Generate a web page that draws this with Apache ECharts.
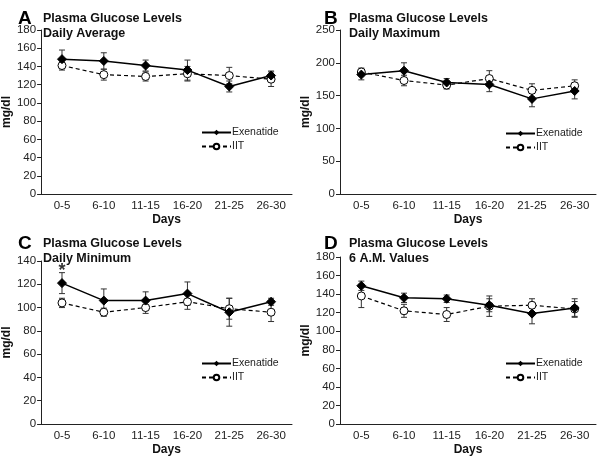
<!DOCTYPE html>
<html>
<head>
<meta charset="utf-8">
<script src="https://cdn.jsdelivr.net/npm/echarts@6/dist/echarts.min.js"></script>
<style>
  html, body { margin: 0; padding: 0; background: #fff; }
  #main { width: 600px; height: 457px; }
</style>
</head>
<body>
<div id="main"></div>
<script>
// categories
const days = ['0-5', '6-10', '11-15', '16-20', '21-25', '26-30'];

// A - daily average
const avgExe    = [148, 146, 141, 136, 118, 130];
const avgExeErr = [10, 9, 6, 11, 6, 5];
const avgIit    = [141, 131, 129, 132, 130, 126];
const avgIitErr = [5, 6, 5, 8, 9, 8];

// B - daily maximum
const maxExe    = [182, 188, 170, 167, 145, 157];
const maxExeErr = [8, 12, 6, 11, 12, 12];
const maxIit    = [186, 173, 166, 176, 158, 165];
const maxIitErr = [6, 8, 6, 12, 10, 9];

// C - daily minimum
const minExe    = [121, 106, 106, 112, 96, 105];
const minExeErr = [9, 10, 7.5, 10, 12, 3];
const minIit    = [104, 96, 100, 105, 99, 96];
const minIitErr = [4, 3.5, 5, 6.5, 9, 8];
const minStar   = [['0-5', 131]];

// D - 6 A.M. values
const amExe    = [149, 136, 135, 128, 119, 125];
const amExeErr = [5, 5, 4, 7, 11, 10];
const amIit    = [138, 122, 118, 127, 128, 124];
const amIitErr = [12.5, 7, 7.5, 11, 7, 8];

const panelLetters = ['A', 'B', 'C', 'D'];
const panelTitles = [
  'Plasma Glucose Levels\nDaily Average',
  'Plasma Glucose Levels\nDaily Maximum',
  'Plasma Glucose Levels\nDaily Minimum',
  'Plasma Glucose Levels\n6 A.M. Values'
];
const yMax = [180, 250, 140, 180];
const yStep = [20, 50, 20, 20];

const FONT = '"Liberation Sans", Arial, sans-serif';

const grids = [
  { left: 35, top: 30, width: 257, height: 164 },
  { left: 340, top: 30, width: 256, height: 164 },
  { left: 35, top: 261, width: 257, height: 163 },
  { left: 340, top: 257, width: 256, height: 167 }
];
const titlePos = [[13, 8], [319, 8], [13, 233], [319, 233]];
const legendPos = [[201, 127], [505, 128], [201, 358], [505, 358]];

const panels = [
  [avgExe, avgExeErr, avgIit, avgIitErr],
  [maxExe, maxExeErr, maxIit, maxIitErr],
  [minExe, minExeErr, minIit, minIitErr],
  [amExe, amExeErr, amIit, amIitErr]
];

function errData(vals, errs) {
  return vals.map((v, i) => [i, v - errs[i], v + errs[i]]);
}

function renderErr(params, api) {
  const lo = api.coord([api.value(0), api.value(1)]);
  const hi = api.coord([api.value(0), api.value(2)]);
  const cap = 3;
  const style = { stroke: '#333', lineWidth: 1 };
  return {
    type: 'group',
    children: [
      { type: 'line', shape: { x1: lo[0], y1: lo[1], x2: hi[0], y2: hi[1] }, style: style },
      { type: 'line', shape: { x1: lo[0] - cap, y1: lo[1], x2: lo[0] + cap, y2: lo[1] }, style: style },
      { type: 'line', shape: { x1: hi[0] - cap, y1: hi[1], x2: hi[0] + cap, y2: hi[1] }, style: style }
    ]
  };
}

let title = [];
let legend = [];
let xAxis = [];
let yAxis = [];
let series = [];

for (let p = 0; p < 4; p++) {
  title.push({
    text: panelLetters[p], left: titlePos[p][0], top: titlePos[p][1] - 4,
    textStyle: { fontFamily: FONT, fontSize: 19, fontWeight: 'bold', color: '#000' }
  });
  title.push({
    text: panelTitles[p], left: titlePos[p][0] + 25, top: titlePos[p][1] - 2,
    textStyle: { fontFamily: FONT, fontSize: 12.5, fontWeight: 'bold', color: '#111', lineHeight: 15 }
  });
  legend.push({
    left: legendPos[p][0], top: legendPos[p][1], orient: 'vertical', padding: 0,
    itemWidth: 29, itemHeight: 7, itemGap: 3,
    data: ['Exenatide', 'IIT'],
    textStyle: { fontFamily: FONT, fontSize: 10.5, color: '#222', padding: [0, 0, 0, -4] }
  });
  xAxis.push({
    type: 'category', gridIndex: p, data: days,
    name: 'Days', nameLocation: 'middle', nameGap: 20,
    nameTextStyle: { fontFamily: FONT, fontSize: 12, fontWeight: 'bold', color: '#111' },
    axisLine: { lineStyle: { color: '#222', width: 1 } },
    axisTick: { alignWithLabel: true, inside: true, length: 3, lineStyle: { color: '#222' } },
    axisLabel: { fontFamily: FONT, fontSize: 11.5, color: '#222', margin: 6 },
    splitLine: { show: false }
  });
  yAxis.push({
    type: 'value', gridIndex: p, min: 0, max: yMax[p], interval: yStep[p],
    name: 'mg/dl', nameLocation: 'middle', nameGap: 22,
    nameTextStyle: { fontFamily: FONT, fontSize: 12, fontWeight: 'bold', color: '#111' },
    axisLine: { show: true, lineStyle: { color: '#222', width: 1 } },
    axisTick: { show: true, length: 4, lineStyle: { color: '#222' } },
    axisLabel: { fontFamily: FONT, fontSize: 11.5, color: '#222', margin: 5 },
    splitLine: { show: false }
  });

  const [exe, exeErr, iit, iitErr] = panels[p];
  series.push({
    type: 'custom', xAxisIndex: p, yAxisIndex: p, renderItem: renderErr,
    data: errData(exe, exeErr), encode: { x: 0, y: [1, 2] }, z: 1, silent: true
  });
  series.push({
    type: 'custom', xAxisIndex: p, yAxisIndex: p, renderItem: renderErr,
    data: errData(iit, iitErr), encode: { x: 0, y: [1, 2] }, z: 1, silent: true
  });
  series.push({
    name: 'IIT', type: 'line', xAxisIndex: p, yAxisIndex: p, data: iit,
    symbol: 'circle', symbolSize: 8,
    itemStyle: { color: '#fff', borderColor: '#000', borderWidth: 1 },
    lineStyle: { color: '#000', width: 1.2, type: [4, 3] }, z: 3
  });
  series.push({
    name: 'Exenatide', type: 'line', xAxisIndex: p, yAxisIndex: p, data: exe,
    symbol: 'diamond', symbolSize: 9,
    itemStyle: { color: '#000', borderColor: '#000' },
    lineStyle: { color: '#000', width: 1.5 }, z: 4
  });
}

// significance marker in panel C
series.push({
  type: 'scatter', xAxisIndex: 2, yAxisIndex: 2, data: minStar,
  symbolSize: 1, itemStyle: { color: 'rgba(0,0,0,0)' }, silent: true,
  label: {
    show: true, position: 'inside', formatter: '*',
    fontFamily: FONT, fontSize: 18, fontWeight: 'bold', color: '#000'
  }
});

const myChart = echarts.init(document.getElementById('main'));
myChart.setOption({
  animation: false,
  backgroundColor: '#fff',
  title: title,
  legend: legend,
  grid: grids,
  xAxis: xAxis,
  yAxis: yAxis,
  series: series
});
</script>
</body>
</html>
